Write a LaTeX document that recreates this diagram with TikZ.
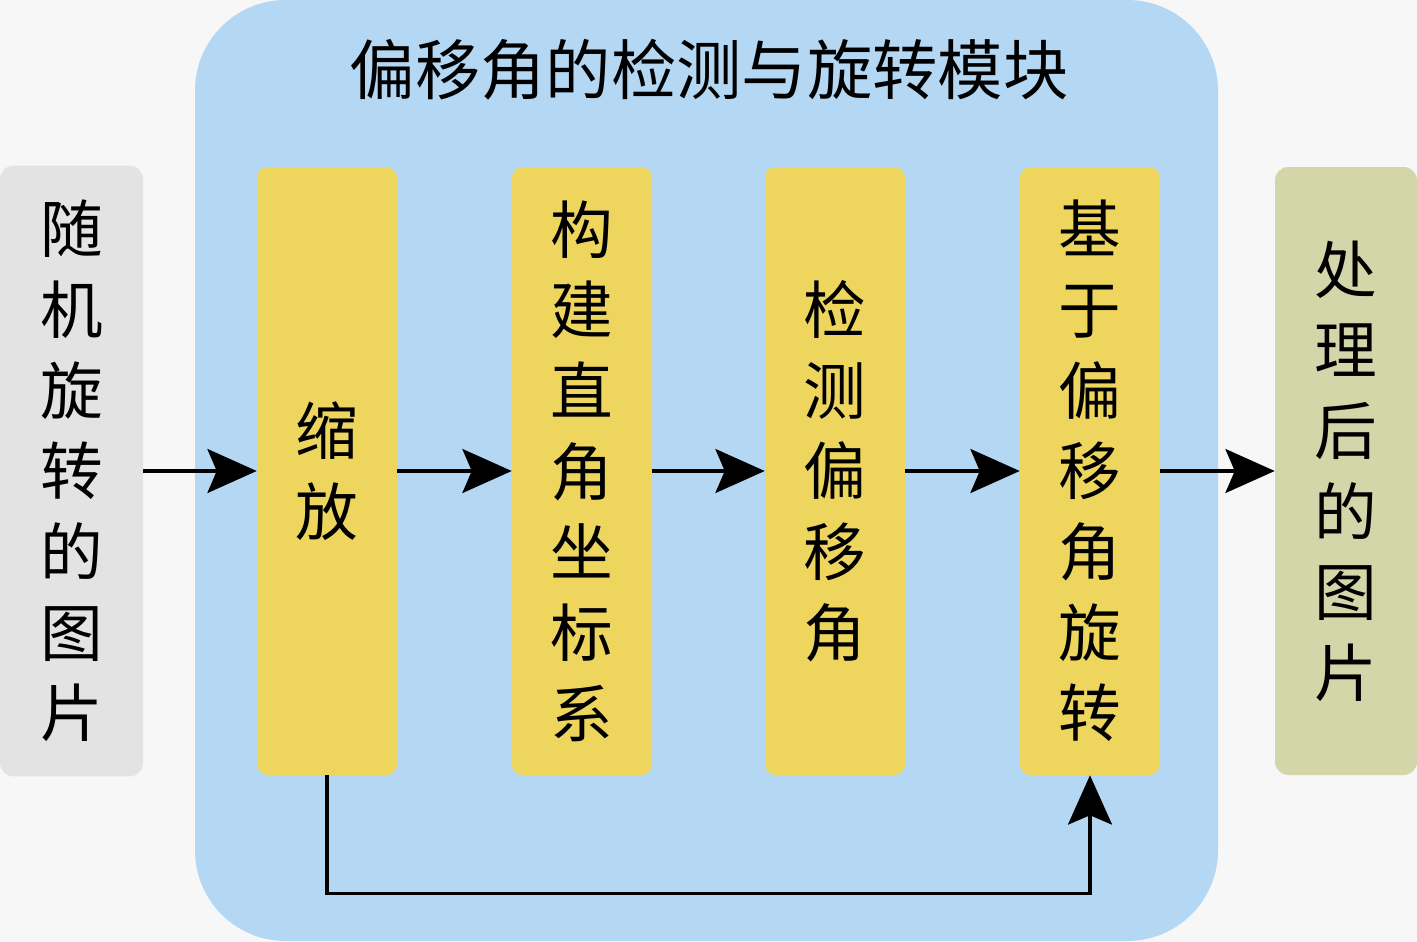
\documentclass[tikz,border=0pt]{standalone}
\usepackage{fontspec}
\setmainfont{Noto Sans CJK SC}
\usetikzlibrary{arrows.meta}
\definecolor{bgc}{HTML}{F7F7F7}
\definecolor{modc}{HTML}{B4D7F3}
\definecolor{stepc}{HTML}{EED65E}
\definecolor{inc}{HTML}{E3E3E3}
\definecolor{outc}{HTML}{D2D6A8}
\tikzset{
  vtext/.style={align=center,font=\fontsize{47}{60.5}\selectfont,inner sep=0pt},
  stepbox/.style={vtext,fill=stepc,rounded corners=8pt,minimum width=105pt,minimum height=456pt},
  inbox/.style={vtext,fill=inc,rounded corners=10pt,minimum width=107.25pt,minimum height=458pt},
  outbox/.style={vtext,fill=outc,rounded corners=10pt,minimum width=106.5pt,minimum height=456pt},
  arr/.style={line width=2.3pt,-{Stealth[length=37pt,width=33pt,inset=7pt]}},
}
\begin{document}
\begin{tikzpicture}[x=0.75pt,y=-0.75pt]
\fill[bgc] (0,0) rectangle (1417,942);
\useasboundingbox (0,0) rectangle (1417,942);
\node[fill=modc,rounded corners=68pt,minimum width=767.25pt,minimum height=705.75pt,inner sep=0pt] (module) at (706.5,470.5) {};
\node[font=\fontsize{49}{55}\selectfont,inner sep=0pt] (title) at (709,70) {偏移角的检测与旋转模块};
\node[inbox] (in) at (71.5,471) {随\\机\\旋\\转\\的\\图\\片};
\node[stepbox] (s1) at (327,471) {缩\\放};
\node[stepbox] (s2) at (582,471) {构\\建\\直\\角\\坐\\标\\系};
\node[stepbox] (s3) at (835,471) {检\\测\\偏\\移\\角};
\node[stepbox] (s4) at (1090,471) {基\\于\\偏\\移\\角\\旋\\转};
\node[outbox] (out) at (1346,471) {处\\理\\后\\的\\图\\片};
\draw[arr] (in.east) -- (s1.west);
\draw[arr] (s1.east) -- (s2.west);
\draw[arr] (s2.east) -- (s3.west);
\draw[arr] (s3.east) -- (s4.west);
\draw[arr] (s4.east) -- (out.west);
\draw[arr] (s1.south) -- ++(0,118) -| (s4.south);
\end{tikzpicture}
\end{document}
